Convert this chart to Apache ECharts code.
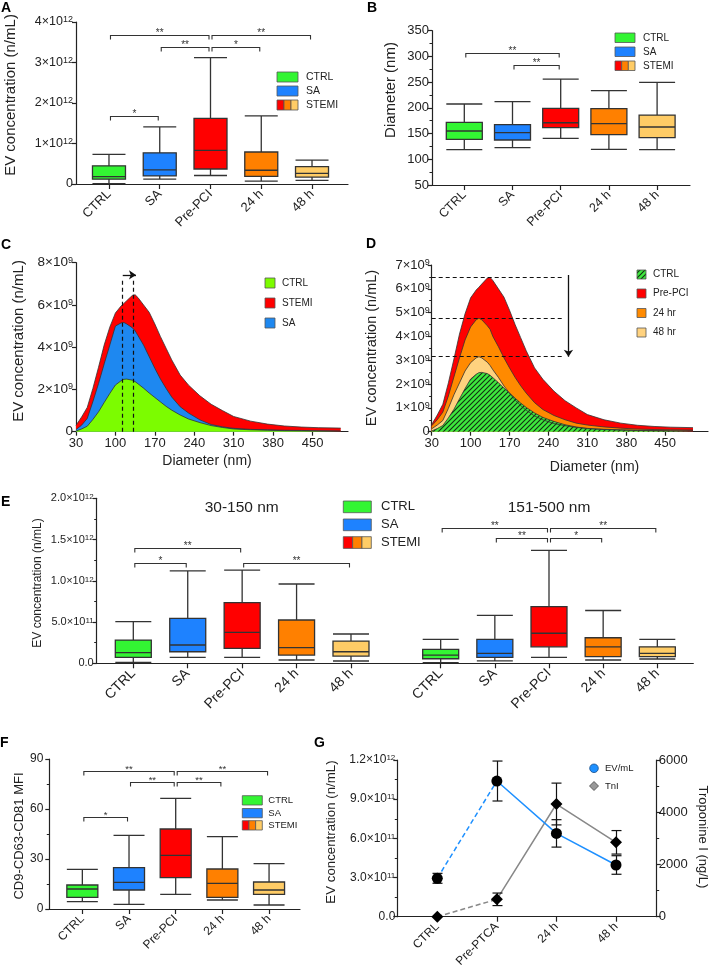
<!DOCTYPE html>
<html><head><meta charset="utf-8">
<script src="https://cdn.jsdelivr.net/npm/echarts@6/dist/echarts.min.js"></script>
<style>html,body{margin:0;padding:0;background:#fff}#c{width:709px;height:970px}</style>
</head><body><div id="c"></div>
<script>
// ================= DATA =================
const boxCats = ['CTRL', 'SA', 'Pre-PCI', '24 h', '48 h'];
const timeCats = ['CTRL', 'Pre-PTCA', '24 h', '48 h'];

// A: EV concentration (x10^12 n/mL)  [min, Q1, median, Q3, max]
const evConcA = [
  [0.01, 0.12, 0.18, 0.45, 0.73],
  [0.12, 0.20, 0.35, 0.77, 1.41],
  [0.21, 0.37, 0.83, 1.62, 3.12],
  [0.07, 0.19, 0.34, 0.79, 1.68],
  [0.09, 0.17, 0.26, 0.43, 0.59]
];
const sigA = [[0, 2, 3.68, '**'], [2, 4, 3.68, '**'], [1, 2, 3.39, '**'], [2, 3, 3.39, '*'], [0, 1, 1.67, '*']];
const yTicksA = [0, 1, 2, 3, 4];

// B: Diameter (nm)
const diamB = [
  [118.7, 138.8, 155, 171.9, 207.5],
  [122.5, 137.5, 151.7, 167.3, 212],
  [140.8, 161.4, 171, 199, 256],
  [119.4, 147.8, 169.2, 198.4, 233.4],
  [118.7, 142, 162.8, 186, 249.7]
];
const sigB = [[0, 2, 307, '**'], [1, 2, 283, '**']];
const yTicksB = [50, 100, 150, 200, 250, 300, 350];

// C / D: size distributions (x10^9 n/mL)
const sizeNm =    [30, 40, 50, 60, 70, 80, 90, 100, 110, 115, 120, 130, 135, 140, 150, 160, 170, 180, 190, 200, 215, 230, 250, 270, 290, 310, 340, 370, 400, 430, 460, 500];
const distSTEMI = [0.30, 0.70, 1.15, 2.05, 3.05, 4.10, 4.95, 5.62, 5.95, 6.07, 6.20, 6.45, 6.48, 6.35, 6.00, 5.65, 5.10, 4.50, 3.95, 3.40, 2.68, 2.20, 1.70, 1.30, 1.00, 0.72, 0.50, 0.36, 0.27, 0.22, 0.19, 0.17];
const distSA =    [0.10, 0.31, 0.63, 1.43, 2.28, 3.21, 4.10, 5.00, 5.15, 5.17, 5.10, 4.92, 4.78, 4.55, 4.10, 3.55, 3.00, 2.49, 2.05, 1.64, 1.18, 0.88, 0.56, 0.34, 0.23, 0.16, 0.11, 0.09, 0.07, 0.06, 0.04, 0.03];
const distCTRL =  [0.03, 0.13, 0.26, 0.58, 0.94, 1.38, 1.81, 2.21, 2.41, 2.48, 2.49, 2.44, 2.37, 2.27, 2.06, 1.83, 1.62, 1.41, 1.20, 1.02, 0.79, 0.60, 0.43, 0.29, 0.20, 0.13, 0.09, 0.07, 0.05, 0.04, 0.03, 0.03];
const dist24h =   [0.25, 0.50, 0.82, 1.50, 2.30, 3.10, 3.85, 4.40, 4.70, 4.76, 4.70, 4.45, 4.30, 4.00, 3.57, 3.10, 2.68, 2.28, 1.93, 1.62, 1.22, 0.93, 0.68, 0.50, 0.36, 0.28, 0.20, 0.15, 0.11, 0.09, 0.08, 0.07];
const dist48h =   [0.12, 0.28, 0.47, 0.98, 1.55, 2.05, 2.55, 2.90, 3.10, 3.15, 3.10, 2.92, 2.78, 2.60, 2.28, 1.92, 1.62, 1.33, 1.10, 0.90, 0.66, 0.50, 0.34, 0.25, 0.18, 0.14, 0.10, 0.08, 0.06, 0.05, 0.04, 0.03];
const sizeTicks = [30, 100, 170, 240, 310, 380, 450];
const yTicksC = [0, 2, 4, 6, 8];
const yTicksD = [0, 1, 2, 3, 4, 5, 6, 7];
const modeNm = [113, 132];            // modal diameters (dashed guides)
const peakLevelsD = [6.47, 4.76, 3.15]; // peak heights Pre-PCI / 24 hr / 48 hr

// E: EV concentration by size class (x10^12 n/mL)
const evSmallE = [
  [0.010, 0.073, 0.129, 0.282, 0.504],
  [0.073, 0.140, 0.222, 0.545, 1.120],
  [0.073, 0.180, 0.375, 0.735, 1.130],
  [0.040, 0.100, 0.190, 0.525, 0.961],
  [0.028, 0.088, 0.140, 0.270, 0.355]
];
const evLargeE = [
  [0.007, 0.055, 0.100, 0.170, 0.290],
  [0.030, 0.073, 0.120, 0.290, 0.580],
  [0.073, 0.200, 0.364, 0.686, 1.370],
  [0.040, 0.080, 0.200, 0.310, 0.640],
  [0.052, 0.080, 0.120, 0.200, 0.290]
];
const sigE1 = [[0, 2, 1.40, '**'], [0, 1, 1.22, '*'], [2, 4, 1.22, '**']];
const sigE2 = [[0, 2, 1.636, '**'], [2, 4, 1.636, '**'], [1, 2, 1.515, '**'], [2, 3, 1.515, '*']];
const yTicksE = [0, 0.5, 1.0, 1.5, 2.0];

// F: CD9-CD63-CD81 MFI
const mfiF = [
  [4.4, 7.0, 12.0, 14.4, 23.8],
  [2.8, 11.4, 16.0, 24.8, 44.2],
  [8.8, 18.8, 32.2, 48.0, 66.4],
  [5.4, 7.0, 15.4, 24.0, 43.4],
  [2.4, 8.8, 11.4, 16.2, 27.2]
];
const sigF = [[0, 2, 83, '**'], [2, 4, 83, '**'], [1, 2, 76.2, '**'], [2, 3, 76.2, '**'], [0, 1, 55.4, '*']];
const yTicksF = [0, 30, 60, 90];

// G: time course
const evMean = [0.294, 1.039, 0.638, 0.396];   // x10^12 n/mL
const evErr  = [0.038, 0.153, 0.105, 0.071];
const tniMean = [0, 666, 4315, 2848];           // ng/L
const tniErr  = [0, 240, 800, 450];
const yTicksG = [0, 0.3, 0.6, 0.9, 1.2];
const yTicksTnI = [0, 2000, 4000, 6000];

// ================= STYLE =================
const FONT = '"Liberation Sans", Arial, Helvetica, sans-serif';
const INK = '#222';
const boxColors = ['#33f533', '#1e82ff', '#ff0000', '#ff8000', '#ffcc66'];
const distColors = {CTRL: '#7cfc00', SA: '#1e88f0', STEMI: '#ff0000', h24: '#ff8a00', h48: '#ffd27f', ctrlD: '#3ee83e'};

function rich(fs) {
  return {
    b: {fontSize: fs, fontFamily: FONT, color: INK},
    s: {fontSize: Math.round(fs * 0.7), fontFamily: FONT, color: INK, verticalAlign: 'top'}
  };
}
const fmtA = v => v === 0 ? '0' : `{b|${Math.round(v)}×10}{s|12}`;
const fmtE9 = v => v === 0 ? '0' : `{b|${Math.round(v)}×10}{s|9}`;
const fmtE12 = v => {
  if (Math.abs(v) < 1e-9) return '0.0';
  if (v >= 0.999) return `{b|${v.toFixed(1)}×10}{s|12}`;
  return `{b|${(v * 10).toFixed(1)}×10}{s|11}`;
};

const option = {animation: false, backgroundColor: '#fff', textStyle: {fontFamily: FONT},
  grid: [], xAxis: [], yAxis: [], series: [], graphic: {elements: []}};
const GR = option.graphic.elements;

function addGrid(left, top, width, height) {
  option.grid.push({left, top, width, height, containLabel: false, outerBoundsMode: 'none'});
  return option.grid.length - 1;
}
function valAxis(gi, ticks, o) {
  return {
    gridIndex: gi, type: 'value', min: ticks[0], max: ticks[ticks.length - 1], interval: ticks[1] - ticks[0],
    position: o.position || 'left',
    axisLine: {show: true, onZero: false, lineStyle: {color: INK, width: 1.2}},
    axisTick: {show: true, length: 4, lineStyle: {color: INK, width: 1.2}},
    minorTick: {show: !!o.minor, splitNumber: 2, length: 2.5, lineStyle: {color: INK, width: 1}},
    splitLine: {show: false}, minorSplitLine: {show: false},
    axisLabel: {margin: o.margin == null ? 3 : o.margin, fontSize: o.fs, color: INK, fontFamily: FONT,
      formatter: o.fmt || (v => String(v)), rich: rich(o.fs)}
  };
}
function hiddenY(gi, ticks) {
  return {gridIndex: gi, type: 'value', min: ticks[0], max: ticks[ticks.length - 1], show: false,
    splitLine: {show: false}, axisLine: {onZero: false}};
}
function lineAxis(gi) {
  return {gridIndex: gi, type: 'value', min: 0, max: 1, axisLine: {show: true, onZero: false, lineStyle: {color: INK, width: 1.2}},
    axisTick: {show: false}, axisLabel: {show: false}, splitLine: {show: false}};
}
function catAxis(gi, cats, fs, margin) {
  return {gridIndex: gi, type: 'category', data: cats, boundaryGap: true,
    axisLine: {show: false, onZero: false},
    axisTick: {show: true, alignWithLabel: true, length: 5, lineStyle: {color: INK, width: 1.2}},
    axisLabel: {rotate: 45, interval: 0, fontSize: fs, color: INK, fontFamily: FONT, margin: margin},
    splitLine: {show: false}};
}
function bracketSeries(xi, yi, list, fs) {
  return {
    type: 'custom', xAxisIndex: xi, yAxisIndex: yi, silent: true, z: 6, clip: false,
    data: list.map(b => [b[0], b[2]]),
    renderItem: function (params, api) {
      const b = list[params.dataIndex];
      const p1 = api.coord([b[0], b[2]]), p2 = api.coord([b[1], b[2]]);
      const x1 = p1[0] + 1.5, x2 = p2[0] - 1.5, y = Math.round(p1[1]) + 0.5;
      return {type: 'group', children: [
        {type: 'polyline', shape: {points: [[x1, y + 4], [x1, y], [x2, y], [x2, y + 4]]},
          style: {stroke: '#333', lineWidth: 1.1, fill: 'none'}},
        {type: 'text', style: {text: b[3], x: (x1 + x2) / 2, y: y + 2.5, align: 'center', verticalAlign: 'bottom',
          fontSize: fs, fontFamily: FONT, fill: '#333'}}
      ]};
    }
  };
}
function addBoxPanel(p) {
  const h = p.bottom - p.top;
  const go = addGrid(p.axisLeft, p.top, p.axisRight - p.axisLeft, h);
  option.xAxis.push(lineAxis(go));
  option.yAxis.push(valAxis(go, p.ticks, p.y));
  p.groups.forEach(g => {
    const gi = addGrid(g.left, p.top, g.width, h);
    const xi = option.xAxis.push(catAxis(gi, boxCats, p.catFs, p.catMargin)) - 1;
    const yi = option.yAxis.push(hiddenY(gi, p.ticks)) - 1;
    option.series.push({
      type: 'boxplot', xAxisIndex: xi, yAxisIndex: yi, boxWidth: [p.boxW, p.boxW], silent: true,
      itemStyle: {borderColor: '#333', borderWidth: 1.3},
      emphasis: {disabled: true},
      data: g.data.map((v, i) => ({value: v, itemStyle: {color: boxColors[i], borderColor: '#333', borderWidth: 1.3}}))
    });
    option.series.push(bracketSeries(xi, yi, g.brackets, p.starFs));
  });
}
function txt(text, x, y, fs, o) {
  o = o || {};
  GR.push({type: 'text', x: x, y: y, rotation: o.rot || 0, silent: true,
    style: {text: text, x: 0, y: 0, align: o.align || 'center', verticalAlign: o.va || 'middle',
      fontSize: fs, fontFamily: FONT, fontWeight: o.bold ? 'bold' : 'normal', fill: o.color || INK}});
}
function legendItem(x, y, w, h, fill, label, fs, tx) {
  if (fill === 'STEMI') {
    const c = ['#ff0000', '#ff8000', '#ffcc66'];
    for (let i = 0; i < 3; i++) {
      GR.push({type: 'rect', silent: true, shape: {x: x + i * w / 3, y: y, width: w / 3, height: h},
        style: {fill: c[i], stroke: '#555', lineWidth: 0.8}});
    }
  } else {
    GR.push({type: 'rect', silent: true, shape: {x: x, y: y, width: w, height: h}, style: {fill: fill, stroke: '#555', lineWidth: 0.8}});
  }
  txt(label, tx, y + h / 2, fs, {align: 'left'});
}
function hatch(bg) {
  const c = document.createElement('canvas');
  c.width = 5; c.height = 5;
  const x = c.getContext('2d');
  x.fillStyle = bg; x.fillRect(0, 0, 5, 5);
  x.strokeStyle = '#123012'; x.lineWidth = 1.1;
  x.beginPath();
  x.moveTo(-1, 6); x.lineTo(6, -1);
  x.moveTo(-1, 1); x.lineTo(1, -1);
  x.moveTo(4, 6); x.lineTo(6, 4);
  x.stroke();
  return c;
}
function areaSeries(xi, yi, vals, color, extra) {
  return Object.assign({
    type: 'line', xAxisIndex: xi, yAxisIndex: yi, symbol: 'none', silent: true, smooth: false,
    data: sizeNm.map((x, i) => [x, vals[i]]),
    lineStyle: {color: '#333', width: 0.8},
    areaStyle: {color: color, opacity: 1},
    emphasis: {disabled: true}
  }, extra || {});
}
const guideStyle = {color: '#111', width: 1.2, type: [4, 3]};
function vLine(x, y0, y1) { return [{coord: [x, y0]}, {coord: [x, y1]}]; }

// ================= PANEL A =================
addBoxPanel({axisLeft: 76, axisRight: 348, top: 22, bottom: 184, ticks: yTicksA,
  y: {fs: 12.5, fmt: fmtA, margin: 3}, catFs: 13, catMargin: 8, boxW: 33, starFs: 10,
  groups: [{left: 83.6, width: 253.8, data: evConcA, brackets: sigA}]});
txt('EV concentration (n/mL)', 10.5, 95, 15, {rot: Math.PI / 2});
legendItem(277, 72, 21, 10, boxColors[0], 'CTRL', 10.5, 306);
legendItem(277, 86, 21, 10, boxColors[1], 'SA', 10.5, 306);
legendItem(277, 100, 21, 10, 'STEMI', 'STEMI', 10.5, 306);

// ================= PANEL B =================
addBoxPanel({axisLeft: 432, axisRight: 690, top: 30.7, bottom: 185, ticks: yTicksB,
  y: {fs: 13, minor: true, margin: 3}, catFs: 12.5, catMargin: 8, boxW: 36, starFs: 10,
  groups: [{left: 440.2, width: 241, data: diamB, brackets: sigB}]});
txt('Diameter (nm)', 391, 90, 15, {rot: Math.PI / 2});
legendItem(615, 33, 20, 9.5, boxColors[0], 'CTRL', 10, 643);
legendItem(615, 47, 20, 9.5, boxColors[1], 'SA', 10, 643);
legendItem(615, 61, 20, 9.5, 'STEMI', 'STEMI', 10, 643);

// ================= PANEL C =================
(function () {
  const gi = addGrid(76, 262.7, 272, 169);
  const xi = option.xAxis.push({gridIndex: gi, type: 'value', min: 30, max: 513,
    axisLine: {show: true, onZero: false, lineStyle: {color: INK, width: 1.2}},
    axisTick: {show: true, length: 4, customValues: sizeTicks, lineStyle: {color: INK, width: 1.2}},
    axisLabel: {customValues: sizeTicks, fontSize: 13, color: INK, fontFamily: FONT, margin: 5},
    splitLine: {show: false}}) - 1;
  const yi = option.yAxis.push(valAxis(gi, yTicksC, {fs: 13.5, fmt: fmtE9, margin: 3})) - 1;
  option.series.push(areaSeries(xi, yi, distSTEMI, distColors.STEMI));
  option.series.push(areaSeries(xi, yi, distSA, distColors.SA));
  option.series.push(areaSeries(xi, yi, distCTRL, distColors.CTRL, {
    markLine: {silent: true, symbol: ['none', 'none'], symbolSize: 7, animation: false, label: {show: false},
      lineStyle: guideStyle, emphasis: {disabled: true},
      data: [
        vLine(modeNm[0], 0, 7.18), vLine(modeNm[1], 0, 7.18),
        [{coord: [modeNm[0], 7.42], lineStyle: {type: 'solid', width: 1.3}}, {coord: [136.5, 7.42], symbol: 'arrow'}]
      ]}
  }));
})();
txt('EV concentration (n/mL)', 19, 341, 15, {rot: Math.PI / 2});
txt('Diameter (nm)', 207, 461.5, 14);
legendItem(265, 278, 10, 10, distColors.CTRL, 'CTRL', 10, 282);
legendItem(265, 298, 10, 10, distColors.STEMI, 'STEMI', 10, 282);
legendItem(265, 318, 10, 10, distColors.SA, 'SA', 10, 282);

// ================= PANEL D =================
const hatchCanvas = hatch(distColors.ctrlD);
(function () {
  const gi = addGrid(431.7, 265, 276.3, 166.7);
  const xi = option.xAxis.push({gridIndex: gi, type: 'value', min: 30, max: 527,
    axisLine: {show: true, onZero: false, lineStyle: {color: INK, width: 1.2}},
    axisTick: {show: true, length: 4, customValues: sizeTicks, lineStyle: {color: INK, width: 1.2}},
    axisLabel: {customValues: sizeTicks, fontSize: 13, color: INK, fontFamily: FONT, margin: 5},
    splitLine: {show: false}}) - 1;
  const yi = option.yAxis.push(valAxis(gi, yTicksD, {fs: 13, fmt: fmtE9, minor: true, margin: 2})) - 1;
  option.series.push(areaSeries(xi, yi, distSTEMI, distColors.STEMI));
  option.series.push(areaSeries(xi, yi, dist24h, distColors.h24));
  option.series.push(areaSeries(xi, yi, dist48h, distColors.h48));
  option.series.push(areaSeries(xi, yi, distCTRL, {image: hatchCanvas, repeat: 'repeat'}, {
    markLine: {silent: true, symbol: ['none', 'none'], symbolSize: 7, animation: false, label: {show: false},
      lineStyle: guideStyle, emphasis: {disabled: true},
      data: [
        vLine(modeNm[0], 0, 7.07), vLine(modeNm[1], 0, 7.07),
        [{coord: [modeNm[0], 7.03], lineStyle: {type: 'solid', width: 1.3}}, {coord: [135, 7.03], symbol: 'arrow'}],
        [{coord: [30, peakLevelsD[0]]}, {coord: [267, peakLevelsD[0]]}],
        [{coord: [30, peakLevelsD[1]]}, {coord: [267, peakLevelsD[1]]}],
        [{coord: [30, peakLevelsD[2]]}, {coord: [267, peakLevelsD[2]]}],
        [{coord: [276, 6.58], lineStyle: {type: 'solid', width: 1.3}}, {coord: [276, peakLevelsD[2]], symbol: 'arrow'}]
      ]}
  }));
})();
txt('EV concentration (n/mL)', 371.5, 348, 14.5, {rot: Math.PI / 2});
txt('Diameter (nm)', 594.5, 467.5, 14);
GR.push({type: 'rect', silent: true, shape: {x: 637, y: 270, width: 9, height: 9},
  style: {fill: {image: hatchCanvas, repeat: 'repeat'}, stroke: '#555', lineWidth: 0.8}});
txt('CTRL', 653, 274.5, 10, {align: 'left'});
legendItem(637, 289, 9, 9, distColors.STEMI, 'Pre-PCI', 10, 653);
legendItem(637, 308.5, 9, 9, distColors.h24, '24 hr', 10, 653);
legendItem(637, 328, 9, 9, distColors.h48, '48 hr', 10, 653);

// ================= PANEL E =================
addBoxPanel({axisLeft: 96.7, axisRight: 693.3, top: 498.3, bottom: 663.3, ticks: yTicksE,
  y: {fs: 11, fmt: fmtE12, minor: true, margin: 3}, catFs: 14, catMargin: 8, boxW: 36, starFs: 10,
  groups: [
    {left: 106.1, width: 272.1, data: evSmallE, brackets: sigE1},
    {left: 413.6, width: 270.8, data: evLargeE, brackets: sigE2}
  ]});
txt('EV concentration (n/mL)', 38, 583, 12, {rot: Math.PI / 2});
txt('30-150 nm', 241.7, 508, 15.5);
txt('151-500 nm', 549, 508, 15.5);
legendItem(343.3, 501, 28, 11.7, boxColors[0], 'CTRL', 13, 381);
legendItem(343.3, 519, 28, 11.7, boxColors[1], 'SA', 13, 381);
legendItem(343.3, 536.7, 28, 11.7, 'STEMI', 'STEMI', 13, 381);

// ================= PANEL F =================
addBoxPanel({axisLeft: 49.3, axisRight: 300, top: 759, bottom: 909, ticks: yTicksF,
  y: {fs: 12, minor: true, margin: 6}, catFs: 12, catMargin: 8, boxW: 31, starFs: 9.5,
  groups: [{left: 59, width: 233.4, data: mfiF, brackets: sigF}]});
txt('CD9-CD63-CD81 MFI', 19, 836, 13, {rot: Math.PI / 2});
legendItem(242.3, 795.7, 20, 9.3, boxColors[0], 'CTRL', 9.5, 268.3);
legendItem(242.3, 808.5, 20, 9.3, boxColors[1], 'SA', 9.5, 268.3);
legendItem(242.3, 820.7, 20, 9.3, 'STEMI', 'STEMI', 9.5, 268.3);

// ================= PANEL G =================
(function () {
  const go = addGrid(397.3, 760, 259.4, 156.7);
  option.xAxis.push(lineAxis(go));
  option.yAxis.push(valAxis(go, yTicksG, {fs: 12, fmt: fmtE12, minor: true, margin: 2}));
  option.yAxis.push(valAxis(go, yTicksTnI, {fs: 13, minor: true, margin: 2, position: 'right'}));
  const gi = addGrid(407.5, 760, 238.3, 156.7);
  const xi = option.xAxis.push(catAxis(gi, timeCats, 12, 8)) - 1;
  const yEv = option.yAxis.push(hiddenY(gi, yTicksG)) - 1;
  const yTn = option.yAxis.push(hiddenY(gi, yTicksTnI)) - 1;
  const seg = (arr, a, b) => arr.map((v, i) => (i >= a && i <= b) ? v : '-');
  const lineS = (yi, data, color, type) => ({type: 'line', xAxisIndex: xi, yAxisIndex: yi, data: data, symbol: 'none',
    silent: true, connectNulls: false, lineStyle: {color: color, width: 1.5, type: type}, z: 2});
  option.series.push(lineS(yTn, seg(tniMean, 0, 1), '#888', [5, 3]));
  option.series.push(lineS(yTn, seg(tniMean, 1, 3), '#888', 'solid'));
  option.series.push(lineS(yEv, seg(evMean, 0, 1), '#1e90ff', [5, 3]));
  option.series.push(lineS(yEv, seg(evMean, 1, 3), '#1e90ff', 'solid'));
  const errS = (yi, means, errs) => ({
    type: 'custom', xAxisIndex: xi, yAxisIndex: yi, silent: true, z: 4, clip: false,
    data: means.map((m, i) => [i, m]),
    renderItem: function (params, api) {
      const i = params.dataIndex;
      if (!errs[i]) return null;
      const lo = api.coord([i, means[i] - errs[i]]), hi = api.coord([i, means[i] + errs[i]]);
      const x = Math.round(lo[0]) + 0.5, w = 5;
      return {type: 'group', children: [
        {type: 'line', shape: {x1: x, y1: lo[1], x2: x, y2: hi[1]}, style: {stroke: '#111', lineWidth: 1.2}},
        {type: 'line', shape: {x1: x - w, y1: hi[1], x2: x + w, y2: hi[1]}, style: {stroke: '#111', lineWidth: 1.2}},
        {type: 'line', shape: {x1: x - w, y1: lo[1], x2: x + w, y2: lo[1]}, style: {stroke: '#111', lineWidth: 1.2}}
      ]};
    }
  });
  option.series.push(errS(yTn, tniMean, tniErr));
  option.series.push(errS(yEv, evMean, evErr));
  option.series.push({type: 'scatter', xAxisIndex: xi, yAxisIndex: yTn, data: tniMean, symbol: 'diamond',
    symbolSize: 12, clip: false, silent: true, z: 5, itemStyle: {color: '#000', opacity: 1}, emphasis: {disabled: true}});
  option.series.push({type: 'scatter', xAxisIndex: xi, yAxisIndex: yEv, data: evMean, symbol: 'circle',
    symbolSize: 11, clip: false, silent: true, z: 5, itemStyle: {color: '#000', opacity: 1}, emphasis: {disabled: true}});
})();
txt('EV concentration (n/mL)', 331, 832, 13.3, {rot: Math.PI / 2});
txt('Troponine I (ng/L)', 703, 837, 13, {rot: -Math.PI / 2});
GR.push({type: 'circle', silent: true, shape: {cx: 594, cy: 768.3, r: 4.3}, style: {fill: '#1e90ff', stroke: '#1b4f8a', lineWidth: 0.8}});
GR.push({type: 'polygon', silent: true, shape: {points: [[594, 781.5], [598.5, 786], [594, 790.5], [589.5, 786]]}, style: {fill: '#999', stroke: '#444', lineWidth: 0.8}});
txt('EV/mL', 605, 768.3, 9.5, {align: 'left'});
txt('TnI', 605, 786, 9.5, {align: 'left'});

// ================= PANEL LETTERS =================
[['A', 1, 1], ['B', 367, 1], ['C', 1, 238], ['D', 366, 237], ['E', 1, 495], ['F', 0, 736], ['G', 314, 736]].forEach(l => {
  txt(l[0], l[1], l[2], 14, {align: 'left', va: 'top', bold: true, color: '#000'});
});

const chart = echarts.init(document.getElementById('c'), null, {renderer: 'canvas', width: 709, height: 970});
chart.setOption(option);
</script></body></html>
